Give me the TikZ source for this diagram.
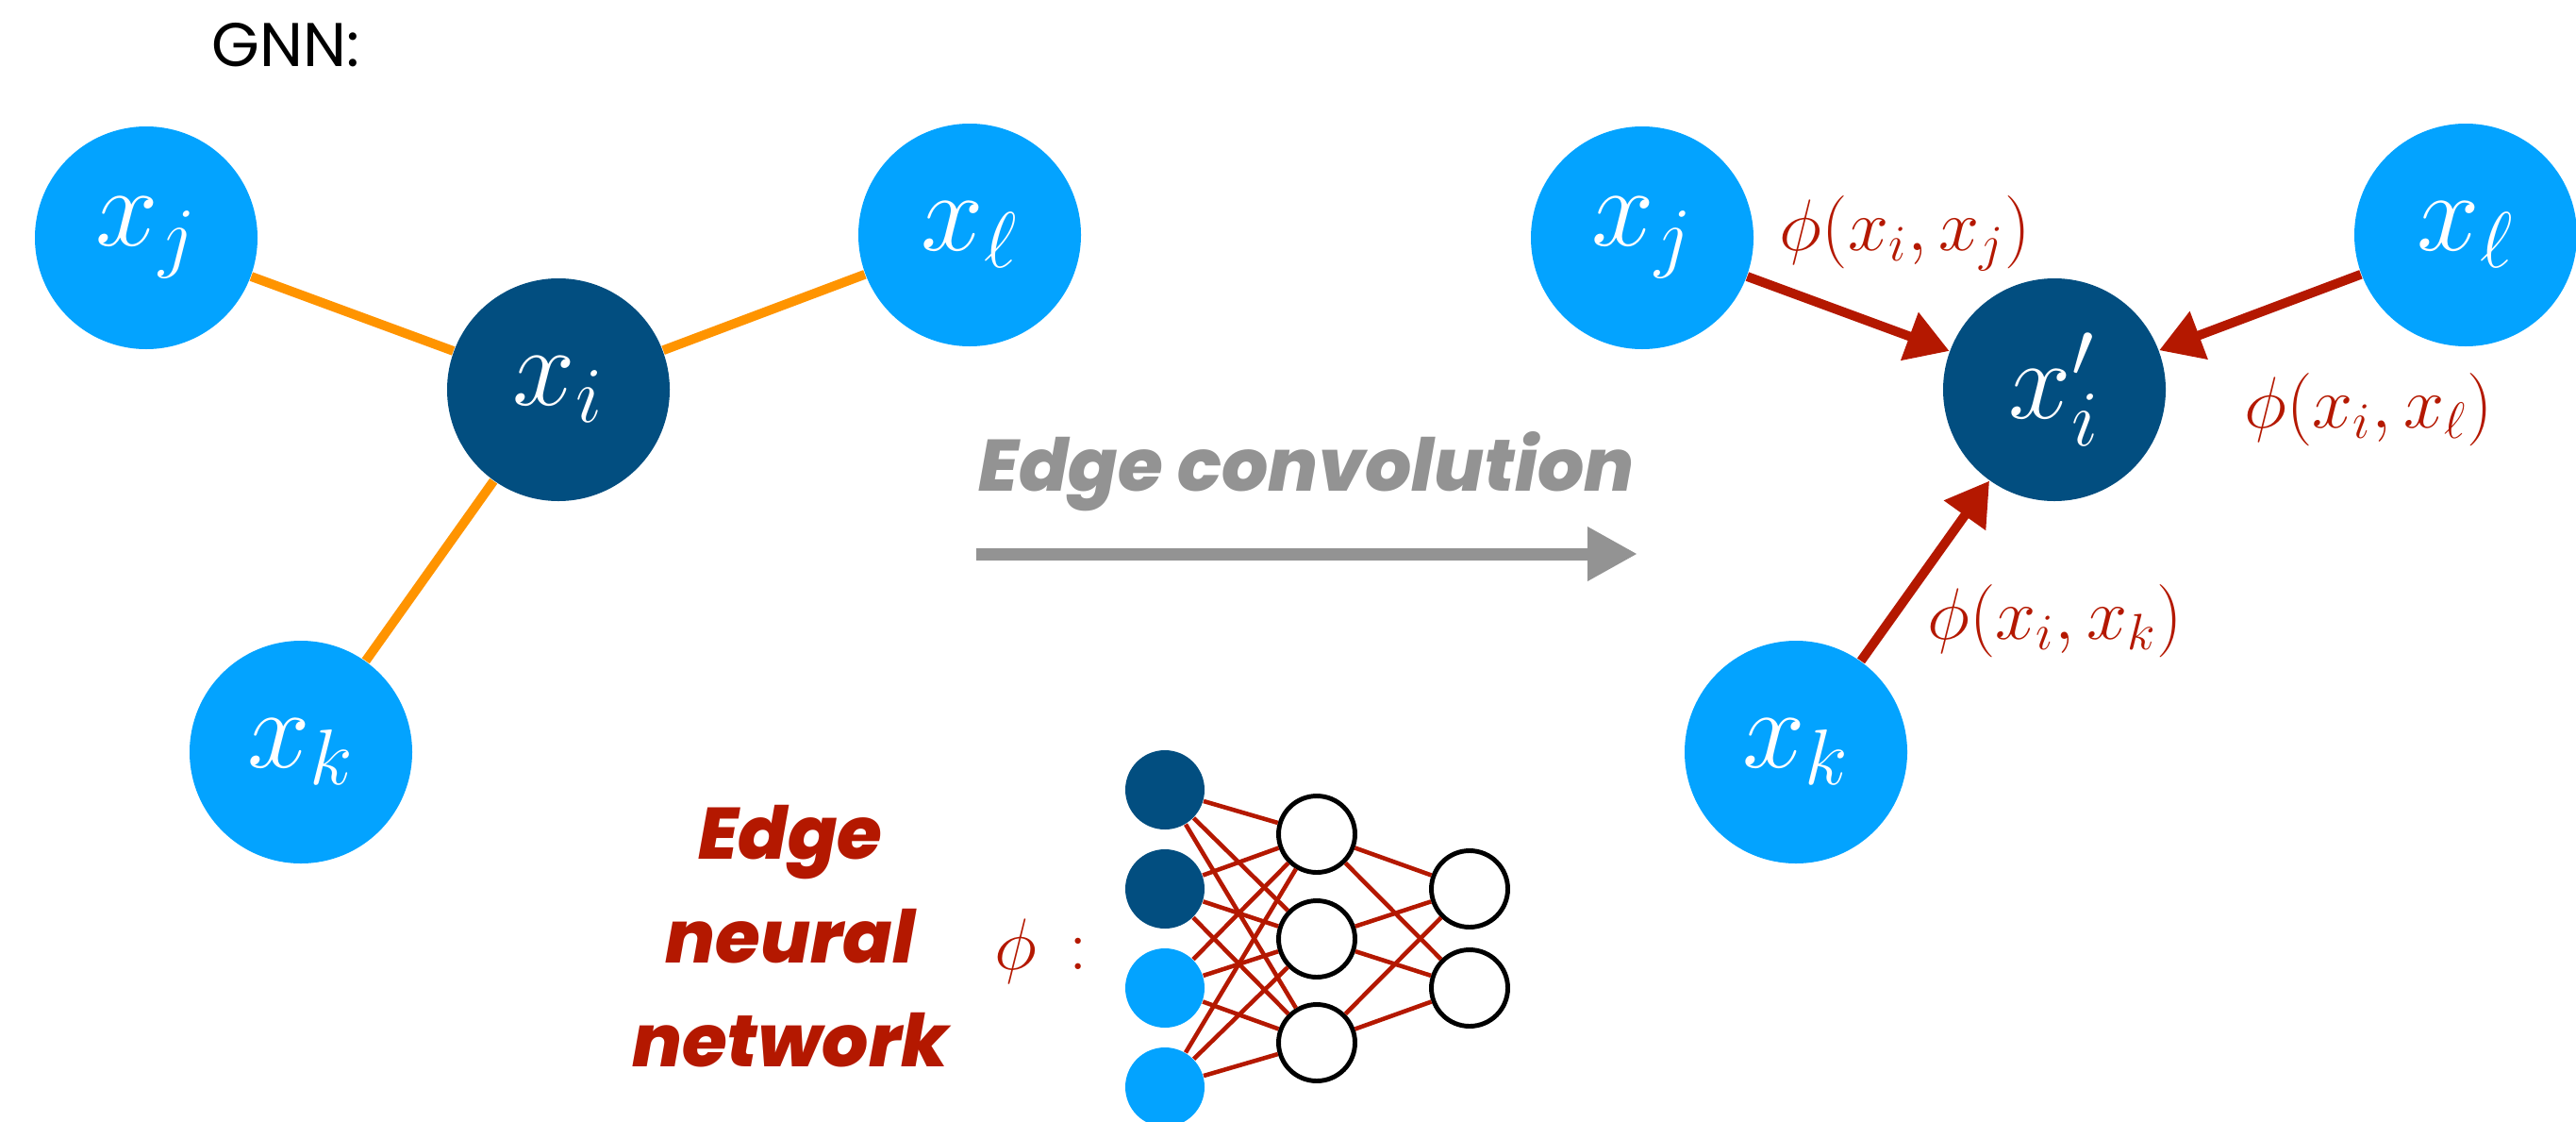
\RequirePackage{fix-cm}
\documentclass[tikz,border=0pt]{standalone}
\usepackage{fontspec}
\setsansfont{Poppins}[BoldItalicFont={Poppins ExtraBold Italic}]
\usetikzlibrary{arrows.meta}
\definecolor{nodeblue}{RGB}{3,163,255}
\definecolor{centerblue}{RGB}{2,78,128}
\definecolor{edgered}{RGB}{180,24,0}
\definecolor{edgeorange}{RGB}{255,148,0}
\definecolor{arrowgray}{RGB}{147,147,147}
\tikzset{
  vtx/.style={circle,fill=nodeblue,text=white,minimum size=2.36cm,inner sep=0pt,font=\fontsize{34}{34}\selectfont},
  ctr/.style={vtx,fill=centerblue},
  msg/.style={edgered,line width=2.8pt,-{Triangle[length=4.5mm,width=5.2mm]}},
  lbl/.style={text=edgered,anchor=base,inner sep=0pt,font=\fontsize{22}{22}\selectfont},
  neuron/.style={circle,minimum size=0.84cm,inner sep=0pt},
  hidden/.style={neuron,draw,fill=white,line width=1.4pt,minimum size=0.81cm},
  wire/.style={edgered,line width=1.3pt},
}
\begin{document}
\begin{tikzpicture}
  \useasboundingbox (0,0) rectangle (27.31,11.88);
  \node[anchor=base west,inner sep=0pt,font=\sffamily\fontsize{18.6}{20}\selectfont] (title) at (2.24,11.18) {GNN:};

  % input graph
  \node[vtx] (xj) at (1.55,9.36) {$x_j$};
  \node[ctr] (xi) at (5.92,7.75) {$x_i$};
  \node[vtx] (xl) at (10.28,9.39) {$x_\ell$};
  \node[vtx] (xk) at (3.19,3.91) {$x_k$};
  \foreach \n in {xj,xl,xk}
    \draw[edgeorange,line width=2.8pt] (xi) -- (\n);

  % edge convolution arrow
  \node[anchor=base,inner sep=0pt,text=arrowgray,font=\sffamily\bfseries\itshape\fontsize{22}{24}\selectfont] (conv) at (13.85,6.68) {Edge convolution};
  \coordinate (convstart) at (10.35,6.01);
  \coordinate (convend) at (17.36,6.01);
  \draw[arrowgray,line width=3.7pt,-{Triangle[length=5.3mm,width=5.4mm]}] (convstart) -- (convend);

  % output graph
  \node[vtx] (yj) at (17.41,9.36) {$x_j$};
  \node[ctr] (yi) at (21.78,7.75) {$x'_i$};
  \node[vtx] (yl) at (26.14,9.39) {$x_\ell$};
  \node[vtx] (yk) at (19.04,3.91) {$x_k$};
  \foreach \n in {yj,yl,yk}
    \draw[msg] (\n) -- (yi);
  \node[lbl] (mj) at (20.20,9.23) {$\phi(x_i,x_j)$};
  \node[lbl] (ml) at (25.11,7.35) {$\phi(x_i,x_\ell)$};
  \node[lbl] (mk) at (21.79,5.11) {$\phi(x_i,x_k)$};

  % edge network
  \node[anchor=north,inner sep=0pt,align=center,text=edgered,font=\sffamily\bfseries\itshape\fontsize{22}{31.3}\selectfont] (enn) at (8.38,3.35) {Edge\\neural\\network};
  \node[lbl] (phi) at (11.04,1.61) {$\phi\,:$};
  \foreach \y/\c [count=\i] in {3.51/centerblue,2.46/centerblue,1.41/nodeblue,0.36/nodeblue}
    \node[neuron,fill=\c] (in\i) at (12.35,\y) {};
  \foreach \y [count=\i] in {3.04,1.93,0.83}
    \node[hidden] (hd\i) at (13.96,\y) {};
  \foreach \y [count=\i] in {2.46,1.41}
    \node[hidden] (out\i) at (15.58,\y) {};
  \foreach \a in {1,...,4}
    \foreach \b in {1,2,3}
      \draw[wire] (in\a) -- (hd\b);
  \foreach \a in {1,2,3}
    \foreach \b in {1,2}
      \draw[wire] (hd\a) -- (out\b);
\end{tikzpicture}
\end{document}
